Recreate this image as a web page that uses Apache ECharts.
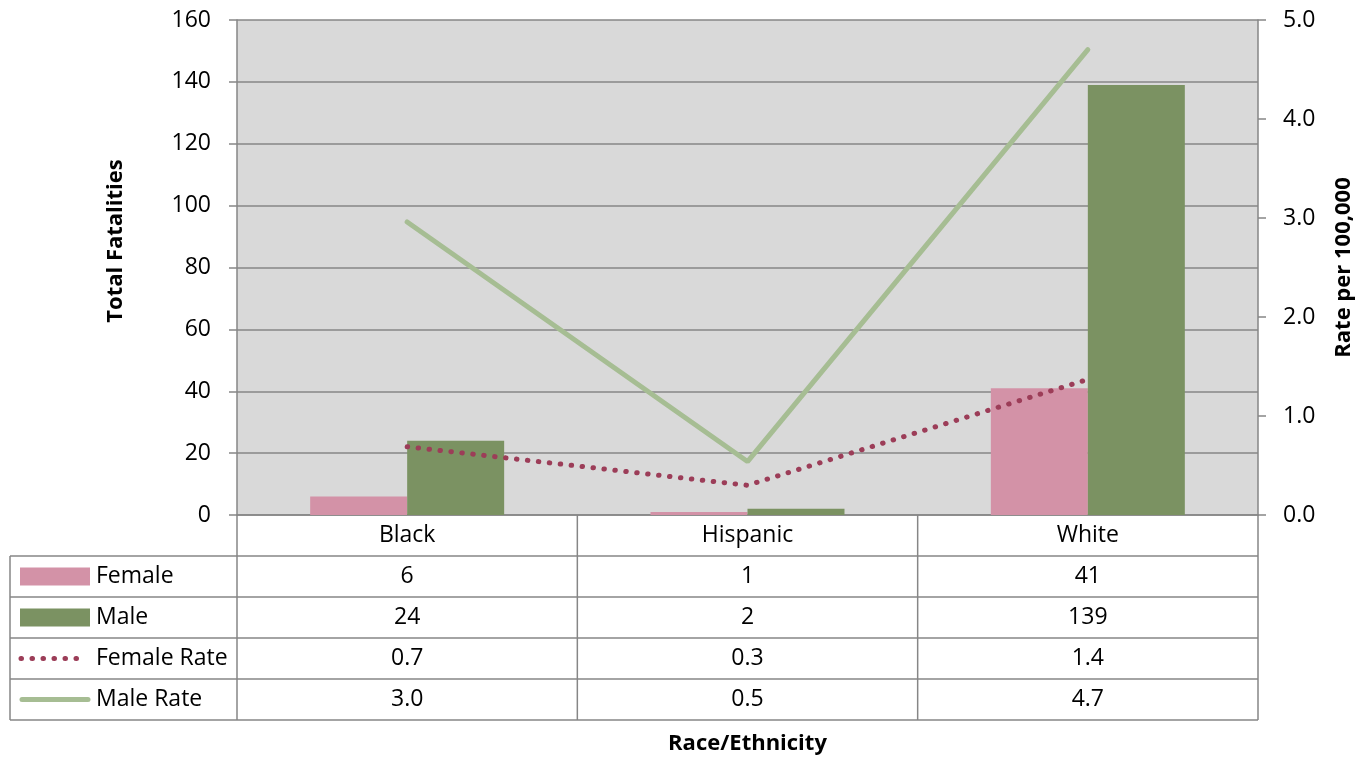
<!DOCTYPE html>
<html><head><meta charset="utf-8">
<script src="https://cdn.jsdelivr.net/npm/echarts@6/dist/echarts.min.js"></script>
<style>html,body{margin:0;padding:0;background:#fff}#c{width:1371px;height:757px}</style>
</head><body><div id="c"></div>
<script>
const categories = ['Black', 'Hispanic', 'White'];
const femaleCounts = [6, 1, 41];
const maleCounts = [24, 2, 139];
const femaleRate = [0.69, 0.30, 1.37];
const maleRate = [2.96, 0.54, 4.70];
const seriesNames = ['Female', 'Male', 'Female Rate', 'Male Rate'];

const FONT = '"Open Sans", "Noto Sans", sans-serif';
const FS = 23, TFS = 22;
const GRIDC = '#868686';
const C_F = '#D392A7', C_M = '#7B9262', C_FR = '#9C3D58', C_MR = '#A6BD93';

const chart = echarts.init(document.getElementById('c'), null, {renderer: 'canvas'});
const L = 237, R = 1258, T = 20, B = 515;

const option = {
  animation: false,
  backgroundColor: '#fff',
  textStyle: {fontFamily: FONT},
  grid: {left: L, right: 1371 - R, top: T, bottom: 757 - B, show: true, backgroundColor: '#D9D9D9', borderWidth: 0,
    containLabel: false, outerBoundsMode: 'none'},
  xAxis: {
    type: 'category', data: categories,
    axisLine: {lineStyle: {color: GRIDC, width: 1.5}},
    axisTick: {show: false},
    axisLabel: {fontSize: FS, color: '#000', margin: 9, fontFamily: FONT},
    name: 'Race/Ethnicity', nameLocation: 'middle', nameGap: 218,
    nameTextStyle: {fontSize: TFS, fontWeight: 'bold', color: '#000', fontFamily: FONT}
  },
  yAxis: [{
    type: 'value', min: 0, max: 160, interval: 20,
    axisLine: {show: true, lineStyle: {color: GRIDC, width: 1.5}},
    axisTick: {show: true, length: 8, lineStyle: {color: GRIDC, width: 1.5}},
    splitLine: {show: true, lineStyle: {color: GRIDC, width: 1.5}},
    axisLabel: {fontSize: FS, color: '#000', margin: 26, fontFamily: FONT}
  }, {
    type: 'value', min: 0, max: 5, interval: 1, position: 'right',
    axisLine: {show: true, lineStyle: {color: GRIDC, width: 1.5}},
    axisTick: {show: true, length: 8, lineStyle: {color: GRIDC, width: 1.5}},
    splitLine: {show: false},
    axisLabel: {fontSize: FS, color: '#000', margin: 25, fontFamily: FONT, formatter: v => v.toFixed(1)},
    name: 'Rate per 100,000', nameLocation: 'middle', nameGap: 75, nameRotate: 90,
    nameTextStyle: {fontSize: TFS, fontWeight: 'bold', color: '#000', fontFamily: FONT}
  }],
  series: [
    {name: seriesNames[0], type: 'bar', data: femaleCounts, yAxisIndex: 0, itemStyle: {color: C_F}, barGap: '0%', barCategoryGap: '43%'},
    {name: seriesNames[1], type: 'bar', data: maleCounts, yAxisIndex: 0, itemStyle: {color: C_M}, barGap: '0%', barCategoryGap: '43%'},
    {name: seriesNames[2], type: 'line', data: femaleRate, yAxisIndex: 1, symbol: 'none', z: 5,
      lineStyle: {color: C_FR, width: 5, type: [0.5, 10.5], cap: 'round'}},
    {name: seriesNames[3], type: 'line', data: maleRate, yAxisIndex: 1, symbol: 'none', z: 5,
      lineStyle: {color: C_MR, width: 5, cap: 'round'}}
  ]
};
chart.setOption(option);

// Data table below the plot
const rowH = 41, tableTop = B, firstRow = B + rowH, nRows = 4, tableBottom = firstRow + nRows * rowH;
const colLeft = 10;
const g = [];
const lineStyle = {stroke: GRIDC, lineWidth: 1.5};
for (let r = 0; r <= nRows; r++) {
  const y = firstRow + r * rowH;
  g.push({type: 'line', shape: {x1: colLeft, y1: y, x2: R, y2: y}, style: lineStyle, silent: true});
}
g.push({type: 'line', shape: {x1: colLeft, y1: firstRow, x2: colLeft, y2: tableBottom}, style: lineStyle});
for (let i = 0; i <= categories.length; i++) {
  const x = L + i * (R - L) / categories.length;
  g.push({type: 'line', shape: {x1: x, y1: tableTop, x2: x, y2: tableBottom}, style: lineStyle});
}
const rowsVals = [
  femaleCounts.map(v => String(v)),
  maleCounts.map(v => String(v)),
  femaleRate.map(v => v.toFixed(1)),
  maleRate.map(v => v.toFixed(1))
];
rowsVals.forEach((vals, r) => {
  const cy = firstRow + r * rowH + rowH / 2;
  vals.forEach((t, i) => {
    const cx = chart.convertToPixel({xAxisIndex: 0}, categories[i]);
    g.push({type: 'text', style: {text: t, x: cx, y: cy, align: 'center', verticalAlign: 'middle', fontSize: FS, fontFamily: FONT, fill: '#000'}});
  });
  g.push({type: 'text', style: {text: seriesNames[r], x: 96, y: cy, align: 'left', verticalAlign: 'middle', fontSize: FS, fontFamily: FONT, fill: '#000'}});
});
// legend keys
let cy0 = firstRow + rowH / 2;
g.push({type: 'rect', shape: {x: 20, y: cy0 - 9, width: 70, height: 18}, style: {fill: C_F}});
let cy1 = firstRow + rowH * 1.5;
g.push({type: 'rect', shape: {x: 20, y: cy1 - 9, width: 70, height: 18}, style: {fill: C_M}});
let cy2 = firstRow + rowH * 2.5;
g.push({type: 'line', shape: {x1: 21, y1: cy2, x2: 82, y2: cy2}, style: {stroke: C_FR, lineWidth: 5, lineDash: [0.5, 10.5], lineCap: 'round'}});
let cy3 = firstRow + rowH * 3.5;
g.push({type: 'line', shape: {x1: 22, y1: cy3, x2: 88, y2: cy3}, style: {stroke: C_MR, lineWidth: 5, lineCap: 'round'}});
// left axis title
g.push({type: 'text', x: 116, y: 241, rotation: Math.PI / 2,
  style: {text: 'Total Fatalities', align: 'center', verticalAlign: 'middle', fontSize: TFS, fontWeight: 'bold', fontFamily: FONT, fill: '#000'}});

chart.setOption({graphic: {elements: g}});
</script>
</body></html>
